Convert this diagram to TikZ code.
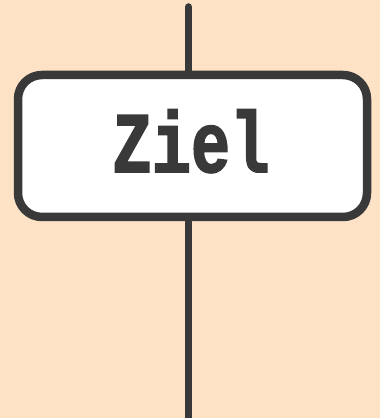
\documentclass[tikz,border=0pt]{standalone}
\usepackage{fontspec}
\newfontfamily\zielfont[FakeBold=2.2]{Liberation Mono Bold}
\definecolor{bg}{HTML}{FDE2C6}
\definecolor{ink}{HTML}{393939}
\tikzset{
  goalbox/.style={draw=ink, fill=white, line width=8.5pt, rounded corners=24pt,
    minimum width=349pt, minimum height=142pt, inner sep=0pt},
  wire/.style={draw=ink, line width=7.5pt},
  goaltext/.style={text=ink, inner sep=0pt, font=\zielfont\fontsize{86}{86}\selectfont,
    xscale=0.76, transform shape}
}
\begin{document}
\begin{tikzpicture}[x=1pt,y=1pt]
\fill[bg] (0,0) rectangle (380,418);
\useasboundingbox (0,0) rectangle (380,418);
\coordinate (top) at (188.5,411);
\coordinate (bot) at (188.5,-10);
\node[goalbox] (box) at (192.5,272) {};
\draw[wire, line cap=round] (top) -- (top |- box.north);
\draw[wire] (box.south -| top) -- (bot);
\node[goaltext, anchor=base] (label) at (191,246) {Ziel};
\end{tikzpicture}
\end{document}
